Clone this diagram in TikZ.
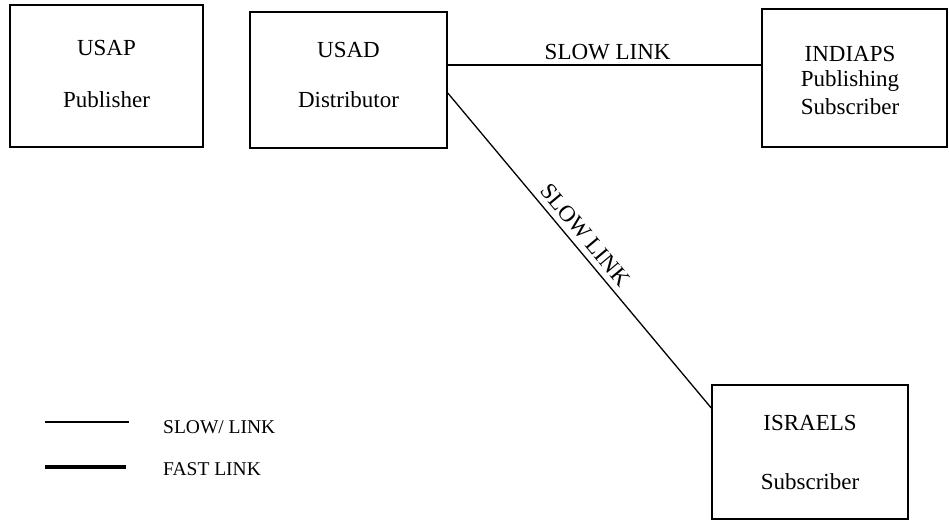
\documentclass[tikz,border=0pt]{standalone}
\usepackage{fontspec}
\setmainfont{Liberation Serif}
\begin{document}
\begin{tikzpicture}[x=1pt,y=-1pt,
  box/.style={draw, line width=1.5pt, inner sep=0pt},
  lbl/.style={font=\fontsize{23}{27}\selectfont, inner sep=0pt},
  leg/.style={font=\fontsize{19.5}{23}\selectfont, inner sep=0pt, anchor=west},
  slowlink/.style={line width=1.3pt},
  fastlink/.style={line width=3.5pt}]
\useasboundingbox (0,0) rectangle (949,521);
% boxes
\node[box, minimum width=193pt, minimum height=142pt] (usap) at (106.5,76) {};
\node[box, minimum width=197pt, minimum height=136pt] (usad) at (348.5,80) {};
\node[box, minimum width=185pt, minimum height=138pt] (indiaps) at (854.5,78) {};
\node[box, minimum width=196pt, minimum height=134pt] (israels) at (810,452) {};
% texts
\node[lbl] (t1) at (106.5,48) {USAP};
\node[lbl] (t2) at (106.5,100) {Publisher};
\node[lbl] (t3) at (348.5,50) {USAD};
\node[lbl] (t4) at (348.5,100) {Distributor};
\node[lbl] (t5) at (850,54) {INDIAPS};
\node[lbl] (t6) at (850,81) {Publishing};
\node[lbl] (t7) at (850,107) {Subscriber};
\node[lbl] (t8) at (810,423) {ISRAELS};
\node[lbl] (t9) at (810,482) {Subscriber};
% links
\coordinate (a1) at (usad.east |- 0,65);
\coordinate (a2) at (indiaps.west |- 0,65);
\draw[slowlink] (a1) -- node[lbl, above=4pt, pos=0.51] (s1) {SLOW LINK} (a2);
\coordinate (b1) at (usad.east |- 0,93);
\coordinate (b2) at (israels.west |- 0,408);
\draw[slowlink] (b1) -- node[lbl, sloped, above=6pt, pos=0.48] (s2) {SLOW LINK} (b2);
% legend
\coordinate (l1) at (45,422);
\coordinate (l2) at (129,422);
\coordinate (l3) at (45,467);
\coordinate (l4) at (126,467);
\draw[slowlink] (l1) -- (l2);
\draw[fastlink] (l3) -- (l4);
\node[leg] (lt1) at (163,427) {SLOW/ LINK};
\node[leg] (lt2) at (163,469) {FAST LINK};
\end{tikzpicture}
\end{document}
